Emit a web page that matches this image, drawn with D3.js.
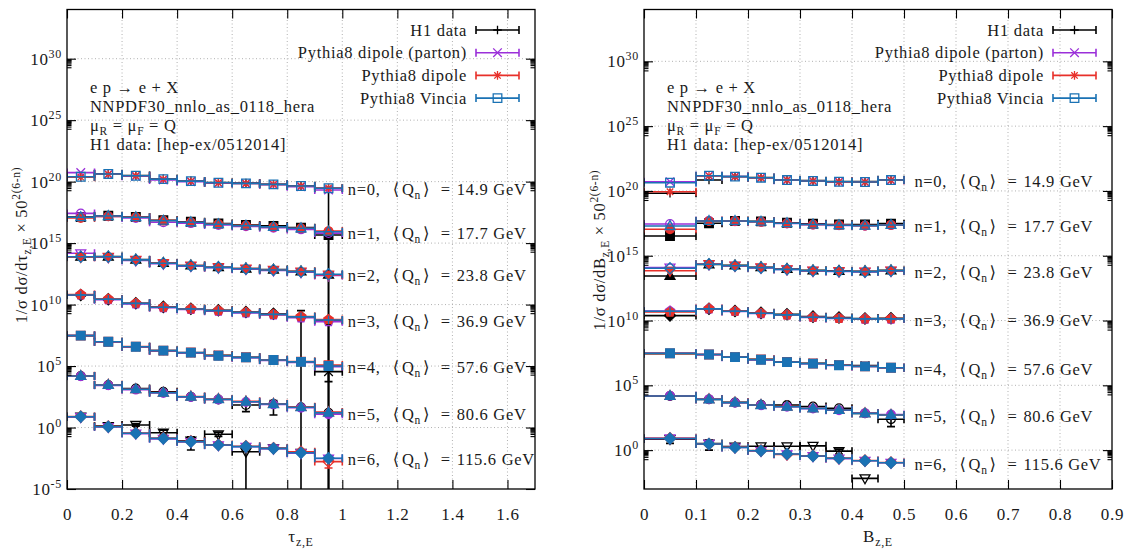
<!DOCTYPE html>
<html><head><meta charset="utf-8">
<script src="https://cdn.jsdelivr.net/npm/d3@7"></script>
<style>
body{margin:0;background:#fff;}
</style></head><body>
<svg id="c" width="1131" height="549"></svg>
<script>
// ---------------- data ----------------
const tauEdges = [0,0.1,0.2,0.3,0.4,0.5,0.6,0.7,0.8,0.9,1.0];
const bEdges   = [0,0.1,0.15,0.2,0.25,0.3,0.35,0.4,0.45,0.5];
const nValues  = [0,1,2,3,4,5,6];
const qMeans   = ["14.9","17.7","23.8","36.9","57.6","80.6","115.6"];
const seriesNames = ["H1 data","Pythia8 dipole (parton)","Pythia8 dipole","Pythia8 Vincia"];
const tauTicks = [0,0.2,0.4,0.6,0.8,1,1.2,1.4,1.6];
const tauTickLabels = ["0","0.2","0.4","0.6","0.8","1","1.2","1.4","1.6"];
const bTicks = [0,0.1,0.2,0.3,0.4,0.5,0.6,0.7,0.8,0.9];
const bTickLabels = ["0","0.1","0.2","0.3","0.4","0.5","0.6","0.7","0.8","0.9"];
const tauYExps = [-5,0,5,10,15,20,25,30];
const bYExps = [0,5,10,15,20,25,30];

// values plotted = 1/sigma dsigma/dx * 50^(2(6-n)); one row per n
const tauH1 = [
 [2.4e20,4.3e20,3.1e20,1.7e20,1.15e20,8.5e19,7.6e19,6.2e19,4.6e19,2.9e19],
 [1.3e17,1.7e17,1.35e17,7.2e16,5.5e16,3.9e16,3.0e16,2.5e16,1.8e16,4.6e15],
 [7.8e13,8.0e13,4.5e13,2.4e13,1.5e13,1.1e13,8.5e12,7.0e12,5.0e12,2.7e12],
 [6.0e10,2.7e10,1.3e10,6.5e9,4.6e9,3.4e9,2.5e9,1.8e9,1.0e9,5.0e8],
 [3.0e7,9.5e6,3.7e6,1.8e6,1.2e6,7.5e5,5.1e5,3.3e5,2.2e5,3.5e4],
 [1.55e4,2.9e3,1.5e3,810,320,190,68,81,45,16],
 [7.6,1.3,1.62,0.38,0.085,0.28,0.0107,0.020,0.0089,null]
];
const tauParton = [
 [5.4e20,4.0e20,2.7e20,1.35e20,1.0e20,7.6e19,7.0e19,5.6e19,3.8e19,2.1e19],
 [2.6e17,1.5e17,1.1e17,4.9e16,4.2e16,3.0e16,2.3e16,1.8e16,1.3e16,6.5e15],
 [1.5e14,7.0e13,3.9e13,2.1e13,1.35e13,9.8e12,7.6e12,5.9e12,4.2e12,2.3e12],
 [6.2e10,2.5e10,1.15e10,5.6e9,4.0e9,2.9e9,2.1e9,1.45e9,8.5e8,4.1e8],
 [3.0e7,9.0e6,3.5e6,1.7e6,1.15e6,6.5e5,4.8e5,2.9e5,2.0e5,9.0e4],
 [1.5e4,2.7e3,1.2e3,640,300,190,118,76,41,12],
 [7.2,1.1,0.32,0.12,0.066,0.036,0.027,0.019,0.0082,0.0030]
];
const tauDipole = [
 [2.3e20,4.0e20,3.0e20,1.6e20,1.1e20,8.1e19,7.0e19,6.0e19,4.4e19,3.0e19],
 [1.1e17,1.5e17,1.3e17,6.8e16,5.0e16,3.5e16,2.7e16,2.1e16,1.6e16,9.5e15],
 [7.2e13,7.5e13,4.3e13,2.4e13,1.5e13,1.1e13,8.5e12,6.6e12,4.9e12,2.7e12],
 [6.5e10,2.8e10,1.3e10,6.2e9,4.5e9,3.3e9,2.4e9,1.6e9,1.05e9,6.0e8],
 [3.0e7,9.5e6,3.8e6,1.8e6,1.25e6,7.2e5,5.2e5,3.2e5,2.3e5,1.2e5],
 [1.6e4,3.0e3,1.3e3,700,330,210,135,85,48,18],
 [7.8,1.2,0.36,0.14,0.075,0.040,0.030,0.021,0.0105,0.0017]
];
const tauVincia = [
 [2.5e20,4.2e20,3.0e20,1.6e20,1.1e20,8.1e19,7.2e19,6.0e19,4.4e19,2.9e19],
 [1.26e17,1.58e17,1.26e17,6.6e16,4.9e16,3.4e16,2.6e16,2.1e16,1.6e16,8.5e15],
 [7.8e13,7.8e13,4.3e13,2.3e13,1.45e13,1.07e13,8.3e12,6.5e12,4.7e12,2.9e12],
 [6.0e10,2.7e10,1.26e10,6.0e9,4.4e9,3.2e9,2.3e9,1.6e9,1.0e9,5.6e8],
 [3.0e7,9.5e6,3.7e6,1.8e6,1.23e6,6.9e5,5.1e5,3.1e5,2.2e5,1.0e5],
 [1.55e4,2.9e3,1.3e3,680,320,200,126,81,45,16],
 [7.6,1.17,0.34,0.13,0.071,0.038,0.028,0.020,0.0089,0.0032]
];
// [n, bin, low, high]; low 0 = bar reaches below the axis
const tauH1Err = [
 [0,9,0,3.4e19],[1,9,0,6.0e15],[3,8,0,3.2e9],[3,9,0,7.0e8],
 [4,9,5.4e3,8.9e4],[5,6,19.5,126],[5,7,10.5,160],
 [6,2,1.3,2.0],[6,3,0.245,0.62],[6,4,0.0148,0.178],[6,5,0.19,0.42],[6,6,0,0.016]
];
const tauDipoleErr = [[6,9,5.1e-4,2.3e-3]];

const bH1 = [
 [6.6e19,6.9e20,1.3e21,1.1e21,7.2e20,6.2e20,5.4e20,5.2e20,7.2e20],
 [3.3e16,3.2e17,4.9e17,4.5e17,3.5e17,2.9e17,2.6e17,2.6e17,3.0e17],
 [2.75e13,2.1e14,1.8e14,1.3e14,9.5e13,7.4e13,6.8e13,6.3e13,7.4e13],
 [2.4e10,8.0e10,5.5e10,3.9e10,3.0e10,2.0e10,1.7e10,1.45e10,1.5e10],
 [2.8e7,2.4e7,1.5e7,1.0e7,6.5e6,5.0e6,3.7e6,3.3e6,2.3e6],
 [1.5e4,8.3e3,4.8e3,3.2e3,3.0e3,2.3e3,1.7e3,690,240],
 [7.1,3.2,1.86,2.0,2.0,2.14,0.83,0.0066,null]
];
const bParton = [
 [5.1e20,1.5e21,1.3e21,1.05e21,6.8e20,5.8e20,5.0e20,4.8e20,6.7e20],
 [2.8e17,4.9e17,4.6e17,4.2e17,3.1e17,2.5e17,2.2e17,2.05e17,2.3e17],
 [1.2e14,2.2e14,1.65e14,1.15e14,8.6e13,6.7e13,6.1e13,5.7e13,6.7e13],
 [5.5e10,8.0e10,5.0e10,3.5e10,2.7e10,1.75e10,1.45e10,1.3e10,1.3e10],
 [3.0e7,2.35e7,1.45e7,9.2e6,6.0e6,4.6e6,3.4e6,2.8e6,2.25e6],
 [1.55e4,8.5e3,4.5e3,2.9e3,2.2e3,1.6e3,1.2e3,700,560],
 [8.0,3.0,1.6,0.85,0.48,0.34,0.22,0.15,0.105]
];
const bDipole = [
 [8.7e19,1.45e21,1.25e21,1.0e21,7.0e20,5.8e20,5.0e20,4.8e20,6.8e20],
 [1.1e17,4.7e17,4.9e17,4.2e17,3.2e17,2.6e17,2.3e17,2.1e17,2.4e17],
 [6.9e13,2.3e14,1.7e14,1.25e14,9.0e13,7.0e13,6.4e13,6.0e13,7.0e13],
 [4.5e10,8.2e10,5.3e10,3.7e10,2.8e10,1.8e10,1.5e10,1.35e10,1.4e10],
 [2.9e7,2.4e7,1.5e7,9.8e6,6.3e6,4.8e6,3.6e6,2.9e6,2.3e6],
 [1.5e4,8.5e3,4.7e3,3.1e3,2.3e3,1.7e3,1.3e3,700,520],
 [8.1,3.0,1.7,0.92,0.47,0.37,0.24,0.16,0.11]
];
const bVincia = [
 [4.3e20,1.48e21,1.26e21,1.05e21,6.9e20,5.9e20,5.1e20,4.9e20,6.9e20],
 [1.95e17,4.8e17,4.8e17,4.3e17,3.2e17,2.6e17,2.24e17,2.1e17,2.34e17],
 [1.07e14,2.2e14,1.7e14,1.2e14,8.9e13,6.9e13,6.3e13,5.9e13,6.9e13],
 [5.2e10,7.9e10,5.2e10,3.6e10,2.75e10,1.78e10,1.5e10,1.35e10,1.35e10],
 [3.0e7,2.4e7,1.5e7,9.5e6,6.2e6,4.7e6,3.5e6,2.9e6,2.3e6],
 [1.5e4,8.3e3,4.6e3,3.0e3,2.24e3,1.66e3,1.26e3,690,510],
 [7.9,2.95,1.62,0.89,0.50,0.355,0.234,0.151,0.107]
];
const bH1Err = [[5,8,65,510],[6,0,3.3,8.1],[6,1,1.0,6.0],[6,6,0.5,1.2]];

// ---------------- drawing ----------------
const colors = ["#000000","#9b30d9","#e8302a","#1a72b4"];
const FONT = '"Liberation Serif","DejaVu Serif",serif';
const FS = 16.5, LS = 0.7;
const svg = d3.select("#c");
svg.append("rect").attr("width",1131).attr("height",549).attr("fill","#fff");

function txt(g, x, y, size){
  return g.append("text").attr("x",x).attr("y",y)
    .style("font-family",FONT).style("font-size",(size||FS)+"px")
    .style("letter-spacing",LS+"px").style("fill","#1a1a1a");
}

const panels = [
 {key:"tau", left:67, right:535, top:9.5, bottom:489, xDomain:[0,1.7], yDomain:[1e-5,1e34],
  xTicks:tauTicks, xLabels:tauTickLabels, yExps:tauYExps, edges:tauEdges,
  series:[tauH1,tauParton,tauDipole,tauVincia], errs:[tauH1Err,[],tauDipoleErr,[]],
  labelX:1.02, xVar:"τ", yTitleX:27, yTitleY:245},
 {key:"b", left:644, right:1112, top:9.5, bottom:489, xDomain:[0,0.9], yDomain:[1e-3,1e34],
  xTicks:bTicks, xLabels:bTickLabels, yExps:bYExps, edges:bEdges,
  series:[bH1,bParton,bDipole,bVincia], errs:[bH1Err,[],[],[]],
  labelX:0.52, xVar:"B", yTitleX:605, yTitleY:250}
];

function markerPath(t, cx, cy, s){
  switch(t){
    case 1: return `M${cx-s},${cy}H${cx+s}M${cx},${cy-s}V${cy+s}`;
    case 2: return `M${cx-s},${cy-s}L${cx+s},${cy+s}M${cx-s},${cy+s}L${cx+s},${cy-s}`;
    case 3: return `M${cx-s},${cy}H${cx+s}M${cx},${cy-s}V${cy+s}M${cx-s*0.75},${cy-s*0.75}L${cx+s*0.75},${cy+s*0.75}M${cx-s*0.75},${cy+s*0.75}L${cx+s*0.75},${cy-s*0.75}`;
    case 4: case 5: return `M${cx-s},${cy-s}H${cx+s}V${cy+s}H${cx-s}Z`;
    case 6: case 7: return `M${cx-s},${cy}A${s},${s} 0 1,0 ${cx+s},${cy}A${s},${s} 0 1,0 ${cx-s},${cy}Z`;
    case 8: case 9: return `M${cx},${cy-s*1.25}L${cx+s*1.15},${cy+s*0.8}L${cx-s*1.15},${cy+s*0.8}Z`;
    case 10: case 11: return `M${cx},${cy+s*1.25}L${cx+s*1.15},${cy-s*0.8}L${cx-s*1.15},${cy-s*0.8}Z`;
    case 12: case 13: return `M${cx},${cy-s*1.3}L${cx+s*1.3},${cy}L${cx},${cy+s*1.3}L${cx-s*1.3},${cy}Z`;
    default: {
      let d="";
      for(let k=0;k<5;k++){const a=-Math.PI/2+k*2*Math.PI/5;d+=(k?"L":"M")+(cx+s*1.15*Math.cos(a))+","+(cy+s*1.15*Math.sin(a));}
      return d+"Z";
    }
  }
}
function drawMarker(g, type, cx, cy, color){
  const t = ((type-1)%15)+1;
  const filled = [5,7,9,11,13,15].includes(t);
  g.append("path").attr("d", markerPath(t,cx,cy,4.3))
   .attr("stroke",color).attr("stroke-width",1.3)
   .attr("fill", filled?color:"none");
}

panels.forEach((p,pi)=>{
  const x = d3.scaleLinear().domain(p.xDomain).range([p.left,p.right]);
  const y = d3.scaleLog().domain(p.yDomain).range([p.bottom,p.top]);
  const g = svg.append("g");
  const clipId = "clip"+pi;
  svg.append("clipPath").attr("id",clipId).append("rect")
    .attr("x",p.left).attr("y",p.top).attr("width",p.right-p.left).attr("height",p.bottom-p.top);

  // grid
  const grid = g.append("g").attr("stroke","#a8a8a8").attr("stroke-width",0.9).attr("stroke-dasharray","1,2.5");
  p.xTicks.filter(v=>v>p.xDomain[0]&&v<p.xDomain[1]).forEach(v=>{
    grid.append("line").attr("x1",x(v)).attr("x2",x(v)).attr("y1",p.top).attr("y2",p.bottom);
  });
  p.yExps.forEach(e=>{
    const v=Math.pow(10,e);
    if(v>p.yDomain[0]&&v<p.yDomain[1])
      grid.append("line").attr("x1",p.left).attr("x2",p.right).attr("y1",y(v)).attr("y2",y(v));
  });

  // data
  const dg = g.append("g").attr("clip-path",`url(#${clipId})`).attr("fill","none");
  p.series.forEach((rows,si)=>{
    const col = colors[si];
    const errMap = {};
    p.errs[si].forEach(e=>errMap[e[0]+"-"+e[1]]=[e[2],e[3]]);
    rows.forEach((vals,n)=>{
      const pt = 4*n+si+1;
      vals.forEach((v,i)=>{
        if(v==null) return;
        const x0=x(p.edges[i]), x1=x(p.edges[i+1]), cx=(x0+x1)/2, cy=y(v);
        let d=`M${x0},${cy}H${x1}M${x0},${cy-4}V${cy+4}M${x1},${cy-4}V${cy+4}`;
        const er = errMap[n+"-"+i];
        if(er){
          const ylo = er[0]>0 ? y(er[0]) : p.bottom+3;
          const yhi = y(er[1]);
          d+=`M${cx},${ylo}V${yhi}M${cx-4},${yhi}H${cx+4}`;
          if(er[0]>0) d+=`M${cx-4},${ylo}H${cx+4}`;
        }
        dg.append("path").attr("d",d).attr("stroke",col).attr("stroke-width",1.6).attr("fill","none");
        drawMarker(dg, pt, cx, cy, col);
      });
    });
  });

  // axes (ticks inward)
  const ax = g.append("g");
  const xb = ax.append("g").attr("transform",`translate(0,${p.bottom})`)
    .call(d3.axisBottom(x).tickValues(p.xTicks).tickSize(-9).tickPadding(19).tickFormat((d,i)=>p.xLabels[i]));
  ax.append("g").attr("transform",`translate(0,${p.top})`)
    .call(d3.axisTop(x).tickValues(p.xTicks).tickSize(-9).tickFormat(""));
  const majors = p.yExps.map(e=>Math.pow(10,e));
  const minors = [];
  p.yExps.concat([p.yExps[p.yExps.length-1]+5]).forEach(e=>{
    for(let k=2;k<=9;k++){const v=k*Math.pow(10,e-1); if(v>p.yDomain[0]&&v<p.yDomain[1]) minors.push(v);}
  });
  ax.append("g").attr("transform",`translate(${p.left},0)`)
    .call(d3.axisLeft(y).tickValues(majors).tickSize(-9).tickFormat(""));
  ax.append("g").attr("transform",`translate(${p.left},0)`)
    .call(d3.axisLeft(y).tickValues(minors).tickSize(-4.5).tickFormat(""));
  ax.append("g").attr("transform",`translate(${p.right},0)`)
    .call(d3.axisRight(y).tickValues(majors).tickSize(-9).tickFormat(""));
  ax.append("g").attr("transform",`translate(${p.right},0)`)
    .call(d3.axisRight(y).tickValues(minors).tickSize(-4.5).tickFormat(""));
  ax.selectAll(".domain").remove();
  ax.selectAll(".tick line").attr("stroke","#000").attr("stroke-width",1.1);
  xb.selectAll("text").style("font-family",FONT).style("font-size","17px").style("fill","#1a1a1a").style("letter-spacing",LS+"px");

  // y tick labels with superscripts
  p.yExps.forEach(e=>{
    const v=Math.pow(10,e);
    const t = txt(g, p.left-5, y(v)+6, 17).attr("text-anchor","end");
    t.append("tspan").text("10");
    t.append("tspan").attr("dy",-7).style("font-size","12px").text(String(e));
  });

  // frame
  g.append("rect").attr("x",p.left).attr("y",p.top).attr("width",p.right-p.left).attr("height",p.bottom-p.top)
   .attr("fill","none").attr("stroke","#000").attr("stroke-width",1.3);

  // series labels
  nValues.forEach(n=>{
    const last = p.series[3][n][p.series[3][n].length-1];
    const lx = x(p.labelX);
    const t = txt(g, lx, y(last)+7);
    t.append("tspan").text(`n=${n},`);
    t.append("tspan").attr("x",lx+45).text("⟨");
    t.append("tspan").attr("dx",2).text("Q");
    t.append("tspan").attr("dy",4).style("font-size","11.5px").text("n");
    t.append("tspan").attr("dy",-4).attr("dx",2).text("⟩");
    t.append("tspan").attr("x",lx+93).text("=");
    t.append("tspan").attr("x",lx+109).text(`${qMeans[n]} GeV`);
  });

  // annotation
  const ax0 = p.left+23;
  txt(g, ax0, 93).text("e p → e + X");
  txt(g, ax0, 112).text("NNPDF30_nnlo_as_0118_hera");
  const mu = txt(g, ax0, 131);
  mu.append("tspan").text("μ");
  mu.append("tspan").attr("dy",4).style("font-size","11.5px").text("R");
  mu.append("tspan").attr("dy",-4).text(" = μ");
  mu.append("tspan").attr("dy",4).style("font-size","11.5px").text("F");
  mu.append("tspan").attr("dy",-4).text(" = Q");
  txt(g, ax0, 150).text("H1 data: [hep-ex/0512014]");

  // legend
  seriesNames.forEach((name,si)=>{
    const ry = 30 + si*22.7;
    txt(g, p.right-68, ry+5.5).attr("text-anchor","end").text(name);
    const lx0=p.right-59, lx1=p.right-16;
    g.append("path").attr("d",`M${lx0},${ry}H${lx1}M${lx0},${ry-4}V${ry+4}M${lx1},${ry-4}V${ry+4}`)
      .attr("stroke",colors[si]).attr("stroke-width",1.6).attr("fill","none");
    drawMarker(g, si+1, (lx0+lx1)/2, ry, colors[si]);
  });

  // x title
  const xt2 = txt(g, (p.left+p.right)/2, 542, 17).attr("text-anchor","middle");
  xt2.append("tspan").text(p.xVar);
  xt2.append("tspan").attr("dy",4).style("font-size","12px").text("z,E");

  // y title
  const yt = g.append("text").attr("transform",`translate(${p.yTitleX},${p.yTitleY}) rotate(-90)`)
    .attr("text-anchor","middle")
    .style("font-family",FONT).style("font-size",FS+"px").style("letter-spacing",LS+"px").style("fill","#1a1a1a");
  yt.append("tspan").text("1/σ dσ/d"+p.xVar);
  yt.append("tspan").attr("dy",4).style("font-size","11.5px").text("z,E");
  yt.append("tspan").attr("dy",-4).text(" × 50");
  yt.append("tspan").attr("dy",-7).style("font-size","11.5px").text("2(6-n)");
});
</script>
</body></html>
